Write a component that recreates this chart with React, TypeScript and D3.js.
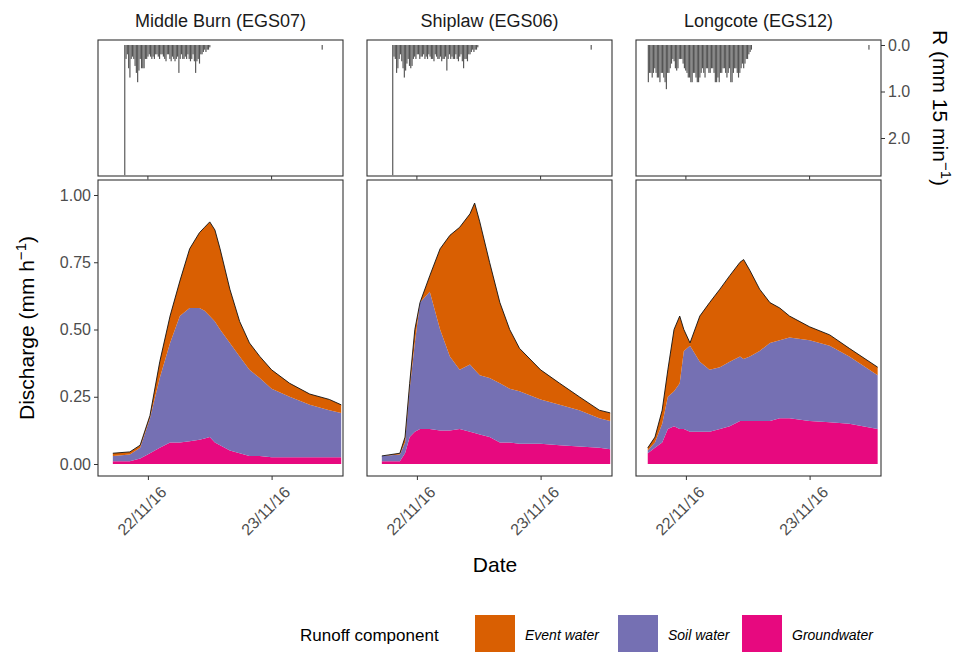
import { useEffect, useRef } from 'react';
import * as d3 from "d3";

// hours relative to 22/11/16 00:00
const sites = ["Middle Burn (EGS07)", "Shiplaw (EGS06)", "Longcote (EGS12)"];

const hours = [
  [-6.8, -3.5, -1.5, 0.4, 2.3, 4.3, 6.2, 8.1, 10, 11, 12, 13, 14, 15.9, 17.8, 19.7, 21.7, 24, 27.5, 31.4, 35.2, 37.5],
  [-6.8, -3.3, -2.3, -1.4, -0.4, 0.6, 2.5, 4.5, 6.4, 8.3, 10.3, 11.2, 12.2, 14.1, 16.1, 18, 19.9, 24, 27.7, 31.5, 35.4, 37.5],
  [-7.4, -6, -4.6, -3.5, -2.3, -1.2, -0.4, 0.8, 2.7, 4.6, 6.6, 8.5, 10.5, 11.2, 12.4, 14.3, 16.3, 18.2, 20.1, 24, 27.9, 31.7, 37.2],
];
const groundwater = [
  [0.01, 0.01, 0.02, 0.04, 0.06, 0.08, 0.08, 0.085, 0.09, 0.095, 0.1, 0.08, 0.07, 0.05, 0.04, 0.03, 0.03, 0.025, 0.025, 0.025, 0.025, 0.025],
  [0.01, 0.01, 0.04, 0.1, 0.12, 0.13, 0.13, 0.125, 0.125, 0.13, 0.12, 0.115, 0.11, 0.1, 0.08, 0.08, 0.075, 0.075, 0.07, 0.065, 0.06, 0.055],
  [0.04, 0.06, 0.08, 0.13, 0.14, 0.13, 0.13, 0.12, 0.12, 0.12, 0.13, 0.14, 0.16, 0.16, 0.16, 0.16, 0.16, 0.17, 0.17, 0.16, 0.155, 0.15, 0.13],
];
const soilWater = [
  [0.02, 0.025, 0.04, 0.13, 0.26, 0.37, 0.47, 0.495, 0.49, 0.475, 0.45, 0.45, 0.43, 0.4, 0.36, 0.32, 0.29, 0.255, 0.225, 0.195, 0.175, 0.165],
  [0.02, 0.025, 0.04, 0.18, 0.33, 0.47, 0.51, 0.375, 0.275, 0.22, 0.25, 0.235, 0.22, 0.22, 0.22, 0.2, 0.195, 0.165, 0.15, 0.135, 0.11, 0.105],
  [0.01, 0.02, 0.07, 0.12, 0.13, 0.17, 0.29, 0.32, 0.26, 0.23, 0.23, 0.24, 0.24, 0.23, 0.24, 0.26, 0.29, 0.29, 0.3, 0.3, 0.285, 0.25, 0.2],
];
const eventWater = [
  [0.01, 0.01, 0.01, 0.01, 0.06, 0.1, 0.13, 0.22, 0.28, 0.31, 0.35, 0.34, 0.3, 0.2, 0.13, 0.1, 0.08, 0.07, 0.05, 0.04, 0.04, 0.03],
  [0, 0.005, 0.02, 0.02, 0.05, 0, 0.06, 0.3, 0.45, 0.53, 0.56, 0.62, 0.57, 0.43, 0.3, 0.22, 0.16, 0.11, 0.08, 0.05, 0.03, 0.03],
  [0.01, 0.02, 0.05, 0.1, 0.23, 0.25, 0.08, 0.01, 0.17, 0.25, 0.29, 0.32, 0.35, 0.37, 0.32, 0.23, 0.15, 0.12, 0.08, 0.05, 0.04, 0.03, 0.03],
];

// rainfall, 15 min totals, starting at rainStart (hours)
const rainStart = [-4.6, -4.8, -7.4];
const rain = [
  [2.8, 0.3, 0.2, 0.5, 0.7, 0.3, 0.25, 0.3, 0.45, 0.6, 0.8, 0.55, 0.3, 0.5, 0.5, 0.5, 0.3, 0.3, 0.25, 0.2, 0.25, 0.3, 0.25, 0.3, 0.2, 0.2, 0.25, 0.3, 0.2, 0.2, 0.25, 0.3, 0.35, 0.2, 0.2, 0.3, 0.35, 0.25, 0.3, 0.35, 0.3, 0.25, 0.6, 0.3, 0.2, 0.3, 0.3, 0.25, 0.3, 0.2, 0.3, 0.35, 0.3, 0.2, 0.35, 0.6, 0.35, 0.3, 0.4, 0.2, 0.2, 0.15, 0.1, 0.15, 0.1, 0.1, 0.05],
  [2.8, 0.25, 0.3, 0.6, 0.5, 0.3, 0.2, 0.35, 0.5, 0.7, 0.55, 0.4, 0.3, 0.45, 0.5, 0.45, 0.3, 0.25, 0.3, 0.2, 0.2, 0.3, 0.25, 0.25, 0.2, 0.3, 0.25, 0.3, 0.2, 0.25, 0.3, 0.3, 0.35, 0.2, 0.25, 0.3, 0.3, 0.25, 0.35, 0.3, 0.3, 0.25, 0.55, 0.3, 0.2, 0.3, 0.25, 0.3, 0.3, 0.2, 0.3, 0.35, 0.25, 0.2, 0.35, 0.5, 0.3, 0.3, 0.35, 0.2, 0.2, 0.15, 0.1, 0.15, 0.1, 0.1, 0.05],
  [0.8, 0.6, 0.6, 0.7, 0.6, 0.5, 0.6, 0.7, 0.7, 0.8, 0.6, 0.6, 0.7, 0.8, 0.95, 0.6, 0.6, 0.5, 0.4, 0.3, 0.35, 0.5, 0.55, 0.5, 0.3, 0.3, 0.3, 0.4, 0.5, 0.55, 0.6, 0.7, 0.7, 0.8, 0.8, 0.6, 0.6, 0.7, 0.8, 0.8, 0.7, 0.6, 0.5, 0.6, 0.7, 0.5, 0.5, 0.6, 0.6, 0.5, 0.5, 0.6, 0.8, 0.8, 0.7, 0.8, 0.6, 0.6, 0.5, 0.5, 0.6, 0.7, 0.6, 0.5, 0.8, 0.8, 0.6, 0.5, 0.5, 0.6, 0.7, 0.6, 0.5, 0.4, 0.5, 0.4, 0.3, 0.3, 0.2, 0.15, 0.1],
];
const lateRain = [[33.7, 0.1], [33.7, 0.1], [35.4, 0.1]];

const components = ["Event water", "Soil water", "Groundwater"];
const colors = ["#D95F02", "#7570B3", "#E7097F"];
const xTicks = [0, 24];
const xTickLabels = ["22/11/16", "23/11/16"];

export default function App() {
  const ref = useRef<SVGSVGElement>(null);

  useEffect(() => {
    const svg = d3.select(ref.current);
    svg.selectAll("*").remove();
    const font = "Liberation Sans, Arial, sans-serif";
    const panelW = 245, gap = 24, left0 = 98;
    const topY0 = 40, topY1 = 176, botY0 = 180, botY1 = 476;

    const y = d3.scaleLinear().domain([0, 1]).range([464, 195]);
    const yr = d3.scaleLinear().domain([0, 2.8]).range([45, 175.2]);

    sites.forEach((site, i) => {
      const px = left0 + i * (panelW + gap);
      const x = d3.scaleLinear().domain([-9.68, 37.85]).range([px, px + panelW]);
      const g = svg.append("g");

      g.append("text").attr("x", px + panelW / 2).attr("y", 27).attr("text-anchor", "middle")
        .style("font-family", font).style("font-size", "18px").attr("fill", "#1a1a1a").text(site);

      // rain strip
      g.append("rect").attr("x", px).attr("y", topY0).attr("width", panelW).attr("height", topY1 - topY0)
        .attr("fill", "white").attr("stroke", "#333").attr("stroke-width", 1.1);
      const bars = rain[i].map((v, k) => [rainStart[i] + k * 0.25, v]).concat([lateRain[i]]);
      const bw = x(0.25) - x(0);
      g.append("g").selectAll("rect").data(bars).join("rect")
        .attr("x", d => x(d[0])).attr("y", yr(0)).attr("width", bw * 0.9)
        .attr("height", d => yr(d[1]) - yr(0)).attr("fill", "#555");
      xTicks.forEach(t => g.append("line").attr("x1", x(t)).attr("x2", x(t)).attr("y1", topY1).attr("y2", topY1 + 3.5)
        .attr("stroke", "#333"));

      // discharge panel
      g.append("rect").attr("x", px).attr("y", botY0).attr("width", panelW).attr("height", botY1 - botY0)
        .attr("fill", "white");
      const rows = hours[i].map((h, k) => ({ h, Groundwater: groundwater[i][k], "Soil water": soilWater[i][k], "Event water": eventWater[i][k] }));
      const stack = d3.stack<any>().keys(["Groundwater", "Soil water", "Event water"])(rows);
      const area = d3.area<any>().x(d => x(d.data.h)).y0(d => y(d[0])).y1(d => y(d[1]));
      stack.forEach(s => {
        g.append("path").datum(s).attr("d", area).attr("fill", colors[components.indexOf(s.key)]);
      });
      const top = d3.line<any>().x(d => x(d.data.h)).y(d => y(d[1]));
      g.append("path").datum(stack[2]).attr("d", top).attr("fill", "none").attr("stroke", "#111").attr("stroke-width", 0.9);
      g.append("rect").attr("x", px).attr("y", botY0).attr("width", panelW).attr("height", botY1 - botY0)
        .attr("fill", "none").attr("stroke", "#333").attr("stroke-width", 1.1);

      const xa = g.append("g").attr("transform", `translate(0,${botY1})`)
        .call(d3.axisBottom(x).tickValues(xTicks).tickSize(4).tickFormat((_, k) => xTickLabels[k]));
      xa.select(".domain").remove();
      xa.selectAll("line").attr("stroke", "#333");
      xa.selectAll("text").attr("transform", "translate(4,2) rotate(-45)").style("text-anchor", "end")
        .attr("dx", "0").attr("dy", "0.9em").attr("fill", "#4d4d4d")
        .style("font-family", font).style("font-size", "16px");

      if (i === 0) {
        const ya = g.append("g").attr("transform", `translate(${px},0)`)
          .call(d3.axisLeft(y).tickValues([0, 0.25, 0.5, 0.75, 1]).tickSize(4).tickFormat(d3.format(".2f")));
        ya.select(".domain").remove();
        ya.selectAll("line").attr("stroke", "#333");
        ya.selectAll("text").attr("fill", "#4d4d4d").style("font-family", font).style("font-size", "16px");
      }
      if (i === 2) {
        const ra = g.append("g").attr("transform", `translate(${px + panelW},0)`)
          .call(d3.axisRight(yr).tickValues([0, 1, 2]).tickSize(4).tickFormat(d3.format(".1f")));
        ra.select(".domain").remove();
        ra.selectAll("line").attr("stroke", "#333");
        ra.selectAll("text").attr("fill", "#4d4d4d").style("font-family", font).style("font-size", "16px");
      }
    });

    // axis titles
    const yt = svg.append("text").attr("transform", "translate(34,328) rotate(-90)").attr("text-anchor", "middle")
      .style("font-family", font).style("font-size", "21px").attr("fill", "#000");
    yt.append("tspan").text("Discharge (mm h");
    yt.append("tspan").attr("dy", -8).style("font-size", "15px").text("−1");
    yt.append("tspan").attr("dy", 8).text(")");

    const rt = svg.append("text").attr("transform", "translate(933,108) rotate(90)").attr("text-anchor", "middle")
      .style("font-family", font).style("font-size", "21px").attr("fill", "#000");
    rt.append("tspan").text("R (mm 15 min");
    rt.append("tspan").attr("dy", -8).style("font-size", "15px").text("−1");
    rt.append("tspan").attr("dy", 8).text(")");

    svg.append("text").attr("x", 495).attr("y", 572).attr("text-anchor", "middle")
      .style("font-family", font).style("font-size", "21px").text("Date");

    // legend
    const lg = svg.append("g");
    lg.append("text").attr("x", 300).attr("y", 641).style("font-family", font).style("font-size", "17px").text("Runoff component");
    const lx = [475, 618, 742];
    components.forEach((c, k) => {
      lg.append("rect").attr("x", lx[k]).attr("y", 615).attr("width", 40).attr("height", 40).attr("fill", colors[k]);
      lg.append("text").attr("x", lx[k] + 50).attr("y", 640).style("font-family", font).style("font-size", "14px")
        .style("font-style", "italic").text(c);
    });
  }, []);

  return <svg ref={ref} width={969} height={652} style={{ position: "absolute", left: 0, top: 0, background: "white" }} />;
}
